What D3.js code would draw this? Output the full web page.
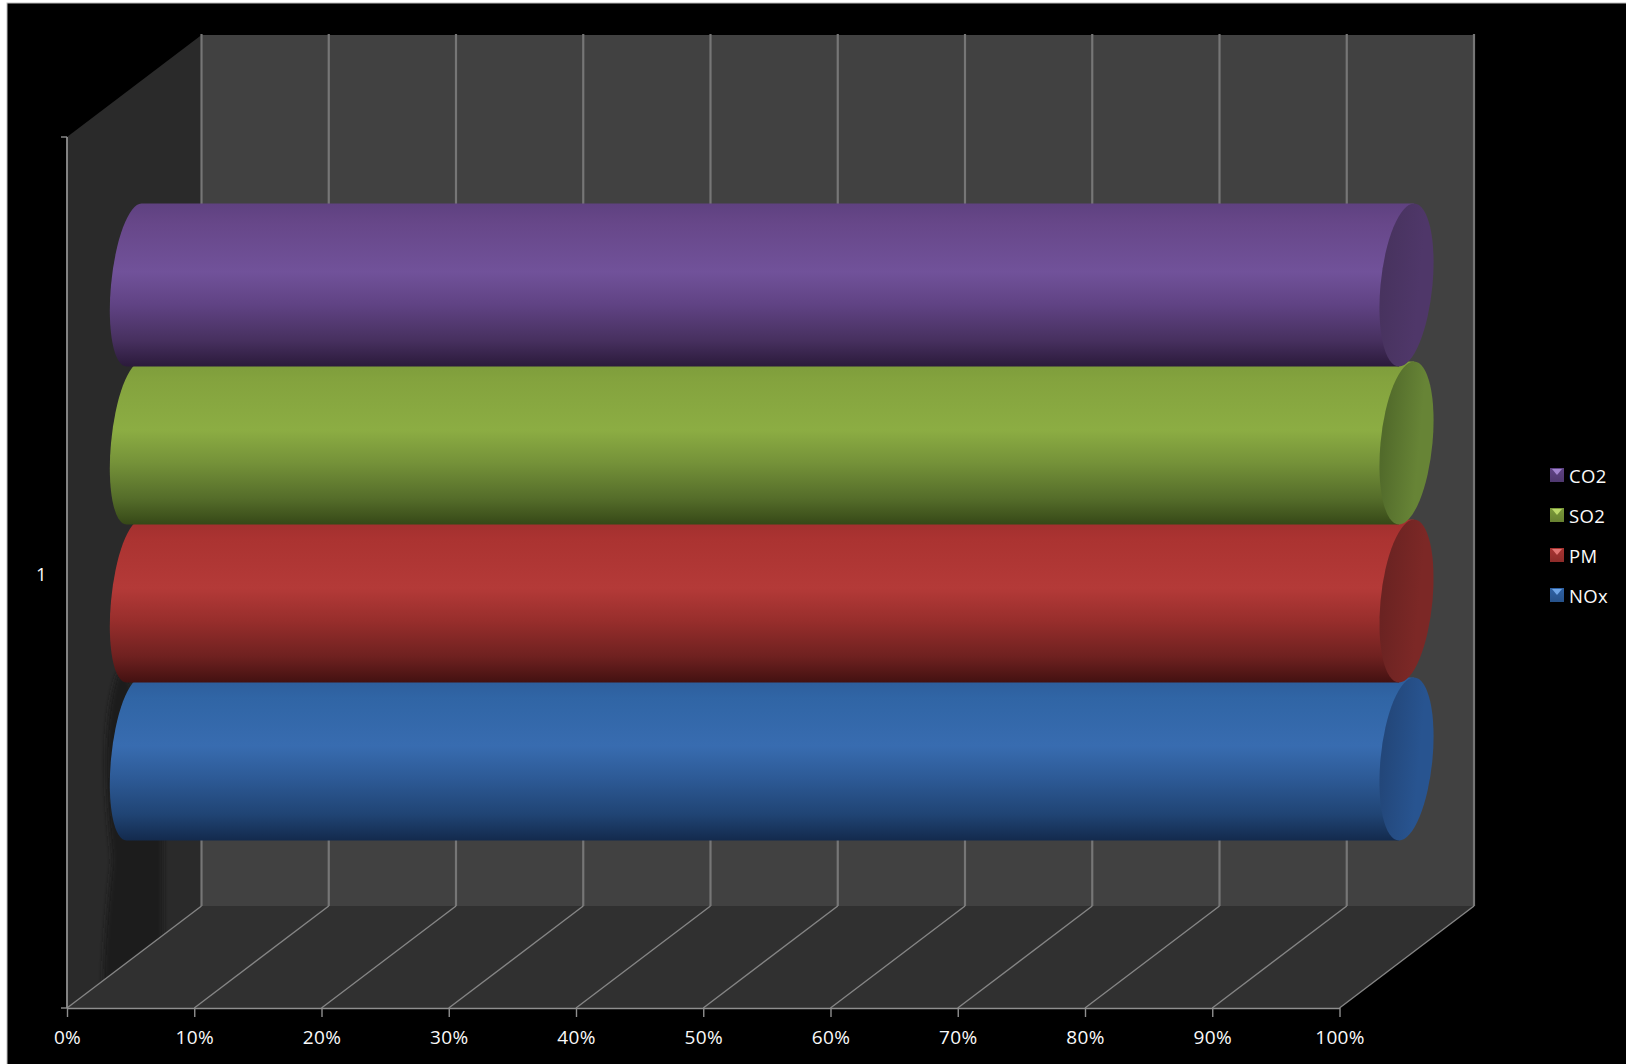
<!DOCTYPE html>
<html><head><meta charset="utf-8">
<script src="https://cdn.jsdelivr.net/npm/d3@7"></script>
<style>
html,body{margin:0;padding:0;background:#fff;overflow:hidden}
svg{display:block}
text{font-family:"Open Sans",sans-serif;fill:#fafafa;letter-spacing:.3px}
</style></head><body>
<div id="chart"></div>
<script>
// ---- data ----
const categories = ["1"];
const seriesNames = ["CO2", "SO2", "PM", "NOx"];
const seriesValues = [100, 100, 100, 100];
const axisTicks = [0, 10, 20, 30, 40, 50, 60, 70, 80, 90, 100];

// ---- styles ----
const bodyStops = {
  CO2: ["#5f4180", "#674789", "#71529a", "#604384", "#47305f", "#2b1a3b"],
  SO2: ["#7d9c3b", "#84a33e", "#8cad43", "#759239", "#556d2a", "#364817"],
  PM:  ["#a12f2e", "#ab3331", "#b43a38", "#982e2c", "#6f2120", "#431111"],
  NOx: ["#2d5c9a", "#3065a5", "#386cb0", "#2d5a96", "#204474", "#132a4d"]
};
const capStops = {
  CO2: ["#48335f", "#4f3769"],
  SO2: ["#526b2b", "#678436"],
  PM:  ["#6b2322", "#7c2826"],
  NOx: ["#23477a", "#285490"]
};
const legendColors = {
  CO2: ["#5f4385", "#a284cf"],
  SO2: ["#7b9a3a", "#bcd96a"],
  PM:  ["#a83432", "#e27573"],
  NOx: ["#2f62a5", "#6fa5e6"]
};
const stopOffsets = [0, 0.12, 0.42, 0.62, 0.84, 1];

// ---- layout ----
const W = 1626, H = 1064;
const frontLeft = 67, frontRight = 1339.5, front = {top: 137, bottom: 1008};
const dx = 134.5, dy = 102;              // depth of the 3D box
const barDepth = 67;                     // cylinders sit mid-depth
const ry = 81.5, rx = 26, rxLeft = 23, shear = -0.092;

const svg = d3.select("#chart").append("svg").attr("width", W).attr("height", H);
const defs = svg.append("defs");

// background
svg.append("rect").attr("x", 0).attr("y", 0).attr("width", W).attr("height", H).attr("fill", "#fff");
svg.append("rect").attr("x", 7).attr("y", 3).attr("width", W).attr("height", H).attr("fill", "#000").attr("stroke", "#bdbdbd").attr("stroke-width", 1);

const x = d3.scaleLinear().domain([0, 100]).range([frontLeft, frontRight]);
const y = d3.scaleBand().domain(seriesNames).range([206, 838]);
const poly = pts => "M" + pts.map(p => p.join(",")).join("L") + "Z";

// walls
const backTop = front.top - dy, backBottom = front.bottom - dy;
svg.append("path").attr("fill", "#414141")
  .attr("d", poly([[x(0)+dx,backTop],[x(100)+dx,backTop],[x(100)+dx,backBottom],[x(0)+dx,backBottom]]));
svg.append("path").attr("fill", "#2a2a2a")
  .attr("d", poly([[x(0),front.top],[x(0)+dx,backTop],[x(0)+dx,backBottom],[x(0),front.bottom]]));

// soft shadow on the side wall
defs.append("filter").attr("id", "soft").attr("x", "-20%").attr("y", "-20%").attr("width", "140%").attr("height", "140%")
  .append("feGaussianBlur").attr("stdDeviation", 2.4);
svg.append("path").attr("fill", "#1b1b1b").attr("filter", "url(#soft)")
  .attr("d", "M118,672C108,700 105,740 106,775C107,820 112,850 112,862C108,900 104,940 103,985L163,940L163,835L130,680Z");

// floor
svg.append("path").attr("fill", "#303030")
  .attr("d", poly([[x(0),front.bottom],[x(0)+dx,backBottom],[x(100)+dx,backBottom],[x(100),front.bottom]]));

// gridlines
svg.append("g").selectAll("line").data(axisTicks).join("line")
  .attr("x1", d => x(d)+dx).attr("x2", d => x(d)+dx).attr("y1", backTop-1).attr("y2", backBottom)
  .attr("stroke", "#767676").attr("stroke-width", 2.2);
svg.append("g").selectAll("line").data(axisTicks).join("line")
  .attr("x1", d => x(d)).attr("x2", d => x(d)+dx).attr("y1", front.bottom).attr("y2", backBottom)
  .attr("stroke", "#858585").attr("stroke-width", 1.4);

// value axis
const axisG = svg.append("g").attr("transform", `translate(0,${front.bottom})`)
  .call(d3.axisBottom(x).tickValues(axisTicks).tickSizeInner(9).tickSizeOuter(0).tickPadding(14).tickFormat(d => d + "%"));
axisG.select(".domain").attr("stroke", "#8f8f8f").attr("stroke-width", 1.6);
axisG.selectAll(".tick line").attr("stroke", "#8f8f8f").attr("stroke-width", 1.4);
axisG.selectAll("text").attr("font-size", 19).attr("font-family", '"Open Sans",sans-serif').attr("fill", "#fafafa");

// category axis
const cat = d3.scaleBand().domain(categories).range([front.top, front.bottom]);
svg.append("line").attr("x1", x(0)).attr("x2", x(0)).attr("y1", front.top).attr("y2", front.bottom)
  .attr("stroke", "#8f8f8f").attr("stroke-width", 1.8);
svg.append("g").selectAll("line").data([front.top, front.bottom]).join("line")
  .attr("x1", x(0)-6).attr("x2", x(0)).attr("y1", d => d).attr("y2", d => d)
  .attr("stroke", "#8f8f8f").attr("stroke-width", 1.4);
svg.append("g").selectAll("text").data(categories).join("text")
  .attr("x", 41.5).attr("y", d => cat(d) + cat.bandwidth()/2 + 2)
  .attr("text-anchor", "middle").attr("dy", "0.35em").attr("font-size", 18.5).text(d => d);

// gradients
seriesNames.forEach((s, i) => {
  const g = defs.append("linearGradient").attr("id", "body" + i).attr("x1", 0).attr("x2", 0).attr("y1", 0).attr("y2", 1);
  bodyStops[s].forEach((c, j) => g.append("stop").attr("offset", stopOffsets[j]).attr("stop-color", c));
  const k = defs.append("linearGradient").attr("id", "cap" + i).attr("x1", 0).attr("x2", 1).attr("y1", 0).attr("y2", 0);
  capStops[s].forEach((c, j) => k.append("stop").attr("offset", j === 0 ? 0.05 : 0.75).attr("stop-color", c));
  const m = defs.append("linearGradient").attr("id", "leg" + i).attr("x1", 0).attr("x2", 0).attr("y1", 0).attr("y2", 1);
  m.append("stop").attr("offset", 0).attr("stop-color", legendColors[s][0]);
  m.append("stop").attr("offset", 1).attr("stop-color", d3.color(legendColors[s][0]).darker(0.5));
});

// cylinders: drawn front (NOx) to back (CO2)
const order = d3.range(seriesNames.length).reverse();
const cyl = svg.append("g").selectAll("g").data(order).join("g")
  .attr("transform", i => `matrix(1,0,${shear},1,0,${y(seriesNames[i]) + y.bandwidth()/2})`);
cyl.append("path").attr("fill", i => `url(#body${i})`)
  .attr("d", i => {
    const x0 = x(0) + barDepth, x1 = x(seriesValues[i]) + barDepth;
    return `M${x0},${-ry}A${rxLeft},${ry} 0 0 0 ${x0},${ry}L${x1},${ry}L${x1},${-ry}Z`;
  });
cyl.append("ellipse").attr("fill", i => `url(#cap${i})`)
  .attr("cx", i => x(seriesValues[i]) + barDepth).attr("cy", 0).attr("rx", rx).attr("ry", ry);

// legend
const legendY = d3.scalePoint().domain(seriesNames).range([475, 595]);
const leg = svg.append("g").selectAll("g").data(seriesNames).join("g")
  .attr("transform", d => `translate(1550,${legendY(d)})`);
leg.append("rect").attr("x", 0).attr("y", -7).attr("width", 14).attr("height", 14)
  .attr("fill", (d, i) => `url(#leg${i})`);
leg.append("path").attr("d", "M2,-6L12,-6L7,0Z").attr("fill", d => legendColors[d][1]);
leg.append("text").attr("x", 19).attr("y", 2).attr("dy", "0.35em").attr("font-size", 18.5).text(d => d);
</script>
</body></html>
